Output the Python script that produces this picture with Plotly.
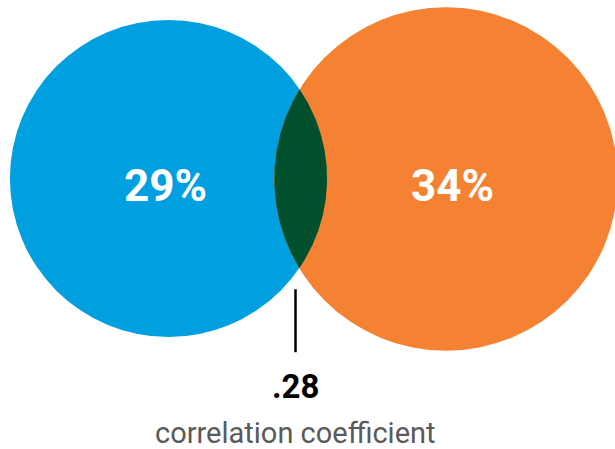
import numpy as np
import plotly.graph_objects as go

# ---- data ----
shares = [29, 34]                 # percent shown in each circle
share_labels = ["29%", "34%"]
correlation = 0.28
correlation_label = ".28"
caption = "correlation coefficient"

# ---- style / layout constants ----
W, H = 615, 449
colors = ["#009FDF", "#F58233"]
overlap_color = "#00502E"
k = 29.45                          # px per sqrt(percent) -> area proportional to share
centers = [(168.5, 178.5), (446.0, 179.0)]
radii = [k * np.sqrt(s) for s in shares]
font = "Roboto, 'Open Sans', Arial, sans-serif"

fig = go.Figure()

# circles
shapes = []
for (cx, cy), r, c in zip(centers, radii, colors):
    shapes.append(dict(type="circle", xref="x", yref="y",
                       x0=cx - r, x1=cx + r, y0=cy - r, y1=cy + r,
                       fillcolor=c, line=dict(width=0), layer="below"))

# lens (intersection)
(ax, ay), (bx, by) = centers
ra, rb = radii
d = np.hypot(bx - ax, by - ay)
phi = np.arctan2(by - ay, bx - ax)
a = (ra**2 - rb**2 + d**2) / (2 * d)
alpha_a = np.arccos(a / ra)
alpha_b = np.arccos((d - a) / rb)
ta = np.linspace(phi - alpha_a, phi + alpha_a, 200)
tb = np.linspace(phi + np.pi - alpha_b, phi + np.pi + alpha_b, 200)
lx = np.concatenate([ax + ra * np.cos(ta), bx + rb * np.cos(tb)])
ly = np.concatenate([ay + ra * np.sin(ta), by + rb * np.sin(tb)])
fig.add_trace(go.Scatter(x=lx, y=ly, mode="lines", fill="toself",
                         fillcolor=overlap_color, line=dict(width=0),
                         hoverinfo="skip", showlegend=False))

# tick line from lens to label
lens_bottom = float(np.max(ly))
shapes.append(dict(type="line", xref="x", yref="y",
                   x0=295.5, x1=295.5, y0=lens_bottom + 21, y1=lens_bottom + 84,
                   line=dict(color="black", width=2.5)))

annotations = []
label_offsets = [-3, 6]
for (cx, cy), lab, dx in zip(centers, share_labels, label_offsets):
    annotations.append(dict(x=cx + dx, y=cy + 7, xref="x", yref="y", text=f"<b>{lab}</b>",
                            showarrow=False, font=dict(family=font, size=44, color="white"),
                            xanchor="center", yanchor="middle"))
annotations.append(dict(x=295.5, y=386, xref="x", yref="y", text=f"<b>{correlation_label}</b>",
                        showarrow=False, font=dict(family=font, size=33, color="black"),
                        xanchor="center", yanchor="middle"))
annotations.append(dict(x=295, y=433, xref="x", yref="y", text=caption,
                        showarrow=False, font=dict(family=font, size=29, color="#5a5a5a"),
                        xanchor="center", yanchor="middle"))

fig.update_layout(
    width=W, height=H, margin=dict(l=0, r=0, t=0, b=0),
    paper_bgcolor="white", plot_bgcolor="white",
    xaxis=dict(range=[0, W], visible=False, fixedrange=True),
    yaxis=dict(range=[H, 0], visible=False, fixedrange=True),
    shapes=shapes, annotations=annotations, showlegend=False,
)
fig.write_html("out.html", config={"displayModeBar": False},
               post_script="document.body.style.margin='0';document.body.style.overflow='hidden';")
